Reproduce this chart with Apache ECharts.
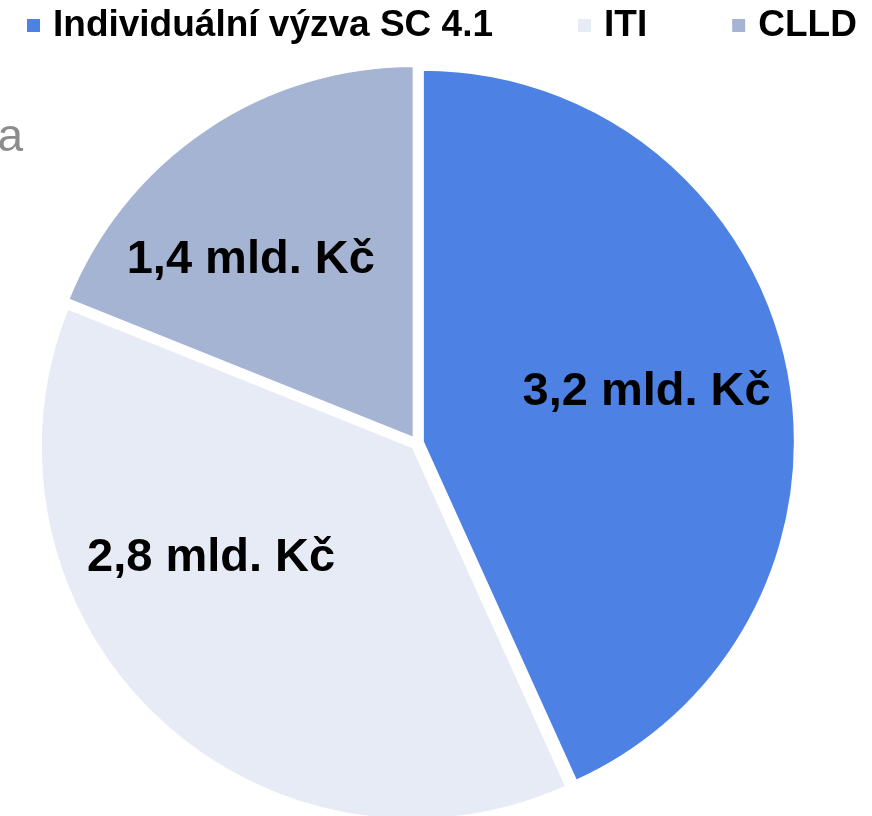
<!DOCTYPE html>
<html>
<head>
<meta charset="utf-8">
<script src="https://cdn.jsdelivr.net/npm/echarts@6/dist/echarts.min.js"></script>
<style>html,body{margin:0;padding:0;background:#fff}#c{width:872px;height:816px}</style>
</head>
<body>
<div id="c"></div>
<script>
const categories = ['Individuální výzva SC 4.1', 'ITI', 'CLLD'];
const values = [3.2, 2.8, 1.4];
const labelTexts = ['3,2 mld. Kč', '2,8 mld. Kč', '1,4 mld. Kč'];
const colors = ['#4d82e4', '#e7ebf5', '#a4b4d2'];
const labelShift = [[39, -10], [-71, -26], [-57, -21]];

const chart = echarts.init(document.getElementById('c'));
chart.setOption({
  animation: false,
  legend: {
    left: 25, top: 7, width: 860, padding: 0,
    itemWidth: 15, itemHeight: 15, itemGap: 83,
    icon: 'rect',
    textStyle: {fontFamily: 'Liberation Sans', fontWeight: 'bold', fontSize: 37, color: '#000', padding: [0, 0, 0, 7]},
    selectedMode: false,
    data: categories
  },
  graphic: [{
    type: 'text', right: 849, top: 115,
    style: {text: 'a', fontFamily: 'Liberation Sans', fontSize: 46, fill: '#8c8c8c'}
  }],
  series: [{
    type: 'pie',
    center: [417, 443],
    radius: 372,
    startAngle: 90,
    clockwise: true,
    selectedMode: 'multiple',
    selectedOffset: 6,
    emphasis: {disabled: true},
    itemStyle: {borderColor: '#fff', borderWidth: 2},
    label: {
      position: 'inside',
      fontFamily: 'Liberation Sans', fontWeight: 'bold', fontSize: 47, color: '#000',
      formatter: p => labelTexts[p.dataIndex]
    },
    labelLayout: p => ({dx: labelShift[p.dataIndex][0], dy: labelShift[p.dataIndex][1]}),
    labelLine: {show: false},
    data: categories.map((n, i) => ({name: n, value: values[i], selected: true, itemStyle: {color: colors[i]}}))
  }]
});
</script>
</body>
</html>
